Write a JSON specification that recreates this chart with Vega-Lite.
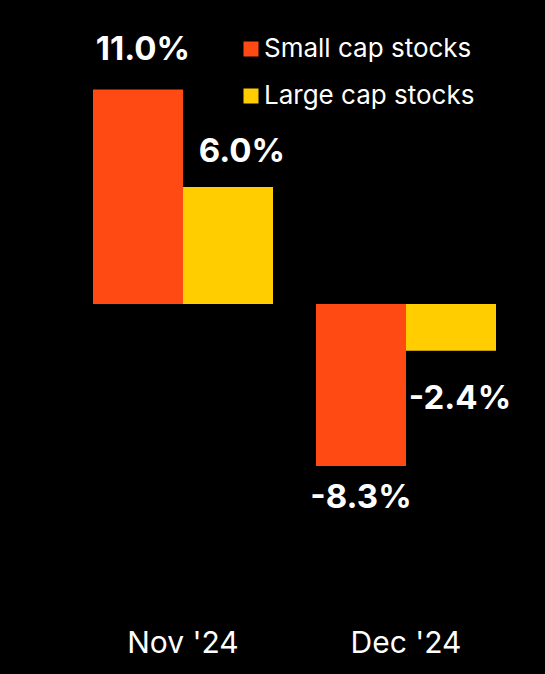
{
  "$schema": "https://vega.github.io/schema/vega-lite/v6.json",
  "width": 501,
  "height": 610,
  "autosize": {"type": "none"},
  "padding": {"left": 44, "top": 0, "right": 0, "bottom": 64},
  "background": "#000000",
  "config": {
    "view": {"stroke": null},
    "font": "Inter"
  },
  "data": {
    "values": [
      {"month": "Nov '24", "series": "Small cap stocks", "value": 11.0, "label": "11.0%"},
      {"month": "Nov '24", "series": "Large cap stocks", "value": 6.0, "label": "6.0%"},
      {"month": "Dec '24", "series": "Small cap stocks", "value": -8.3, "label": "-8.3%"},
      {"month": "Dec '24", "series": "Large cap stocks", "value": -2.4, "label": "-2.4%"}
    ]
  },
  "encoding": {
    "x": {
      "field": "month",
      "type": "nominal",
      "sort": ["Nov '24", "Dec '24"],
      "scale": {"paddingInner": 0.1928, "paddingOuter": 0.2197},
      "axis": {
        "title": null,
        "domain": false,
        "ticks": false,
        "tickSize": 0,
        "labelAngle": 0,
        "labelColor": "#ffffff",
        "labelFontSize": 30,
        "labelFont": "Inter",
        "labelFontWeight": "normal",
        "labelBaseline": "alphabetic",
        "labelPadding": 42,
        "grid": false
      }
    },
    "xOffset": {
      "field": "series",
      "type": "nominal",
      "sort": ["Small cap stocks", "Large cap stocks"],
      "scale": {"paddingInner": 0, "paddingOuter": 0}
    },
    "y": {
      "field": "value",
      "type": "quantitative",
      "scale": {"domain": [-15.69, 15.59], "nice": false, "zero": false},
      "axis": null
    }
  },
  "layer": [
    {
      "mark": {"type": "bar"},
      "encoding": {
        "color": {
          "field": "series",
          "type": "nominal",
          "scale": {"domain": ["Small cap stocks", "Large cap stocks"], "range": ["#FF4A14", "#FFCD00"]},
          "legend": {
            "title": null,
            "orient": "none",
            "legendX": 194,
            "legendY": 36,
            "symbolType": "square",
            "symbolSize": 225,
            "symbolStrokeWidth": 0,
            "symbolOpacity": 1,
            "labelColor": "#ffffff",
            "labelFontSize": 26,
            "labelFont": "Inter",
            "labelOffset": 0,
            "labelLimit": 400,
            "rowPadding": 21,
            "padding": 0
          }
        }
      }
    },
    {
      "transform": [{"filter": "datum.series === 'Small cap stocks' && datum.value > 0"}],
      "mark": {"type": "text", "color": "#ffffff", "fontWeight": "bold", "fontSize": 33, "baseline": "alphabetic", "dx": 5, "dy": -30},
      "encoding": {"text": {"field": "label"}}
    },
    {
      "transform": [{"filter": "datum.series === 'Large cap stocks' && datum.value > 0"}],
      "mark": {"type": "text", "color": "#ffffff", "fontWeight": "bold", "fontSize": 33, "baseline": "alphabetic", "dx": 14, "dy": -25},
      "encoding": {"text": {"field": "label"}}
    },
    {
      "transform": [{"filter": "datum.series === 'Small cap stocks' && datum.value < 0"}],
      "mark": {"type": "text", "color": "#ffffff", "fontWeight": "bold", "fontSize": 33, "baseline": "alphabetic", "dx": 0, "dy": 42},
      "encoding": {"text": {"field": "label"}}
    },
    {
      "transform": [{"filter": "datum.series === 'Large cap stocks' && datum.value < 0"}],
      "mark": {"type": "text", "color": "#ffffff", "fontWeight": "bold", "fontSize": 33, "baseline": "alphabetic", "dx": 9, "dy": 58},
      "encoding": {"text": {"field": "label"}}
    }
  ]
}
